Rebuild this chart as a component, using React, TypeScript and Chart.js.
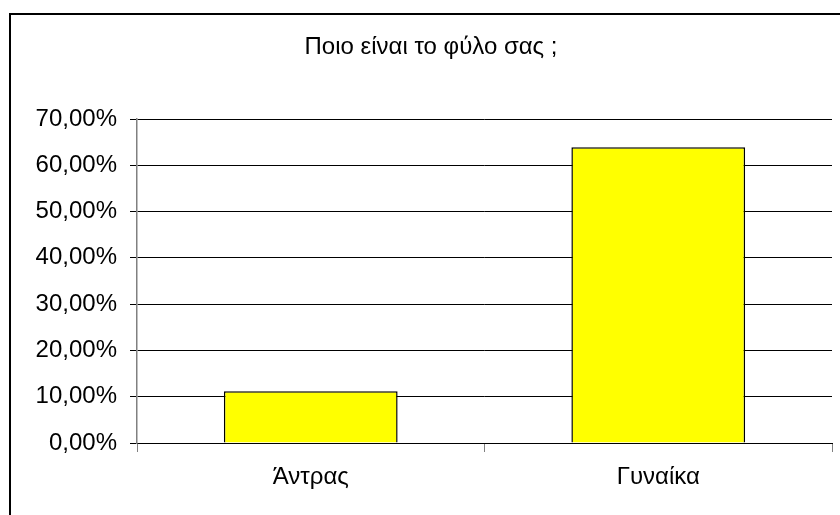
import React, { useEffect, useRef } from "react";
import { Chart, registerables } from "chart.js";

Chart.register(...registerables);

const TITLE = "Ποιο είναι το φύλο σας ;";
const categories = ["Άντρας", "Γυναίκα"];
const values = [11.2, 63.9];
const yMin = 0;
const yMax = 70;
const yStep = 10;
const formatTick = (v: number) => v.toFixed(2).replace(".", ",") + "%";

const FONT = "'Liberation Sans', Arial, sans-serif";
const FONT_SIZE = 24;

const framePlugin = {
  id: "frame",
  beforeDraw(chart: any) {
    const ctx = chart.ctx;
    ctx.save();
    ctx.fillStyle = "#ffffff";
    ctx.fillRect(0, 0, chart.width, chart.height);
    ctx.fillStyle = "#000000";
    ctx.fillRect(9, 13, chart.width - 9, 2);
    ctx.fillRect(9, 13, 2, chart.height - 13);
    ctx.restore();
  },
  afterDraw(chart: any) {
    const ctx = chart.ctx;
    ctx.save();
    ctx.fillStyle = "#000000";
    ctx.font = `${FONT_SIZE}px ${FONT}`;
    ctx.textAlign = "center";
    ctx.textBaseline = "middle";
    ctx.fillText(TITLE, 431, 47);
    ctx.restore();
  },
};

export default function App() {
  const ref = useRef<HTMLCanvasElement | null>(null);
  useEffect(() => {
    if (!ref.current) return;
    const chart = new Chart(ref.current, {
      type: "bar",
      data: {
        labels: categories,
        datasets: [
          {
            data: values,
            backgroundColor: "#FFFF00",
            borderColor: "#000000",
            borderWidth: 1.5,
            barPercentage: 0.5,
            categoryPercentage: 1,
          },
        ],
      },
      options: {
        responsive: false,
        animation: false,
        devicePixelRatio: 1,
        layout: { padding: { left: 0, right: 8, top: 119, bottom: 0 } },
        plugins: {
          legend: { display: false },
          title: { display: false },
          tooltip: { enabled: false },
        },
        scales: {
          x: {
            offset: true,
            grid: {
              offset: true,
              drawOnChartArea: false,
              drawTicks: true,
              tickLength: 9,
              color: "#808080",
            },
            border: { display: true, color: "#000000", width: 1 },
            ticks: {
              padding: 11,
              color: "#000000",
              font: { family: FONT, size: FONT_SIZE },
              maxRotation: 0,
            },
            afterFit(scale: any) {
              scale.height = 72;
            },
          },
          y: {
            min: yMin,
            max: yMax,
            grid: {
              color: "#000000",
              lineWidth: 1,
              tickLength: 7,
              drawTicks: true,
            },
            border: { display: true, color: "#808080", width: 1.5 },
            ticks: {
              stepSize: yStep,
              padding: 13,
              color: "#000000",
              font: { family: FONT, size: FONT_SIZE },
              callback: (v: any) => formatTick(Number(v)),
            },
            afterFit(scale: any) {
              scale.width = 137;
            },
          },
        },
      },
      plugins: [framePlugin],
    });
    return () => chart.destroy();
  }, []);
  return (
    <div style={{ position: "fixed", left: 0, top: 0, width: 840, height: 515, background: "#fff" }}>
      <canvas ref={ref} width={840} height={515} style={{ display: "block" }} />
    </div>
  );
}
